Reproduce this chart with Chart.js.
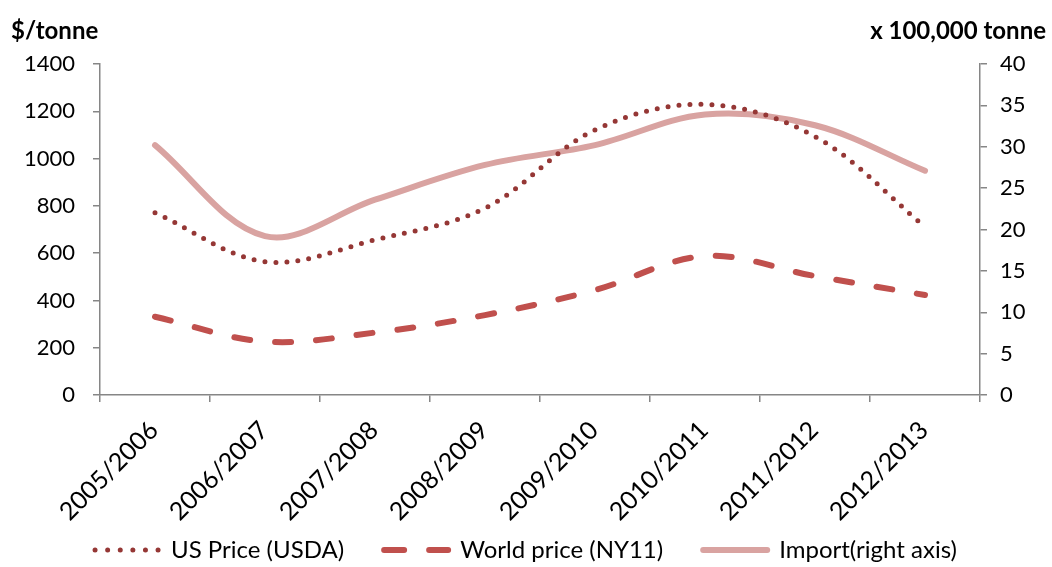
<!DOCTYPE html>
<html>
<head>
<meta charset="utf-8">
<script src="https://cdn.jsdelivr.net/npm/chart.js@4.4.0/dist/chart.umd.min.js"></script>
<style>
  html, body { margin: 0; padding: 0; background: #fff; }
  #wrap { width: 1052px; height: 567px; }
</style>
</head>
<body>
<div id="wrap"><canvas id="sugarChart"></canvas></div>
<script>
// marketing years
const seasons = ['2005/2006', '2006/2007', '2007/2008', '2008/2009', '2009/2010', '2010/2011', '2011/2012', '2012/2013'];

// prices in $/tonne (left axis)
const usPrice = [771, 564, 656, 790, 1121, 1229, 1093, 712];
const worldPrice = [331, 226, 264, 338, 444, 588, 503, 423];

// imports in 100,000 tonne (right axis)
const imports = [30.2, 19.2, 23.6, 27.8, 30.2, 33.9, 32.6, 27.1];

const priceTicks = [0, 200, 400, 600, 800, 1000, 1200, 1400];
const importTicks = [0, 5, 10, 15, 20, 25, 30, 35, 40];

const FONT = 'Lato, "Open Sans", sans-serif';
const AXIS = '#868686';

// bold unit labels above both y axes
const unitLabels = {
    id: 'unitLabels',
    afterDraw(chart) {
        const ctx = chart.ctx;
        ctx.save();
        ctx.font = 'bold 24px ' + FONT;
        ctx.fillStyle = '#000';
        ctx.textBaseline = 'middle';
        ctx.textAlign = 'left';
        ctx.fillText('$/tonne', 11, 31);
        ctx.textAlign = 'right';
        ctx.fillText('x 100,000 tonne', 1046, 31);
        ctx.restore();
    }
};

// season names under the x axis, turned 45 degrees
// (drawn here so they are not clipped to the axis box)
const seasonLabels = {
    id: 'seasonLabels',
    afterDraw(chart) {
        const xs = chart.scales.x;
        const ctx = chart.ctx;
        ctx.save();
        ctx.font = '25px ' + FONT;
        ctx.fillStyle = '#000';
        ctx.textAlign = 'right';
        ctx.textBaseline = 'middle';
        seasons.forEach((s, i) => {
            ctx.save();
            ctx.translate(xs.getPixelForValue(i) - 1, xs.top + 31);
            ctx.rotate(-Math.PI / 4);
            ctx.fillText(s, 0, 0);
            ctx.restore();
        });
        ctx.restore();
    }
};

// legend samples follow each dataset's own dash pattern
function legendItems(chart) {
    return chart.data.datasets.map((ds, i) => ({
        text: ds.label,
        fillStyle: ds.borderColor,
        strokeStyle: ds.borderColor,
        lineWidth: ds.borderWidth,
        lineDash: ds.legendDash || [],
        lineCap: ds.borderCapStyle,
        pointStyle: 'line',
        fontColor: '#000',
        hidden: !chart.isDatasetVisible(i),
        datasetIndex: i
    }));
}

const ctx = document.getElementById('sugarChart').getContext('2d');
const sugarChart = new Chart(ctx, {
    type: 'line',
    data: {
        labels: seasons,
        datasets: [{
            label: 'US Price (USDA)',
            data: usPrice,
            yAxisID: 'y',
            borderColor: '#953735',
            backgroundColor: '#953735',
            borderWidth: 5,
            borderDash: [0, 11],
            legendDash: [0, 12.6],
            borderCapStyle: 'round',
            tension: 0.35,
            pointRadius: 0,
            fill: false
        }, {
            label: 'World price (NY11)',
            data: worldPrice,
            yAxisID: 'y',
            borderColor: '#C0504D',
            backgroundColor: '#C0504D',
            borderWidth: 6,
            borderDash: [16, 25],
            legendDash: [20, 25],
            borderCapStyle: 'round',
            tension: 0.35,
            pointRadius: 0,
            fill: false
        }, {
            label: 'Import(right axis)',
            data: imports,
            yAxisID: 'y1',
            borderColor: '#D9A3A1',
            backgroundColor: '#D9A3A1',
            borderWidth: 6,
            borderCapStyle: 'round',
            tension: 0.35,
            pointRadius: 0,
            fill: false
        }]
    },
    options: {
        responsive: true,
        maintainAspectRatio: false,
        animation: false,
        layout: {
            padding: { top: 64, left: 0, right: 0, bottom: -5 }
        },
        plugins: {
            tooltip: { enabled: false },
            legend: {
                position: 'bottom',
                labels: {
                    usePointStyle: true,
                    pointStyle: 'line',
                    pointStyleWidth: 64,
                    boxHeight: 6,
                    padding: 40,
                    color: '#000',
                    font: { family: FONT, size: 24 },
                    generateLabels: legendItems
                }
            }
        },
        scales: {
            x: {
                offset: true,
                grid: {
                    offset: true,
                    drawOnChartArea: false,
                    drawTicks: true,
                    tickLength: 7,
                    color: AXIS,
                    lineWidth: 1.5
                },
                border: { display: true, color: AXIS, width: 1.5 },
                ticks: { display: false },
                afterFit(scale) { scale.height = 103; }
            },
            y: {
                position: 'left',
                min: priceTicks[0],
                max: priceTicks[priceTicks.length - 1],
                grid: {
                    drawOnChartArea: false,
                    tickLength: 7,
                    color: AXIS,
                    lineWidth: 1.5
                },
                border: { display: true, color: AXIS, width: 1.5 },
                ticks: {
                    stepSize: 200,
                    padding: 18,
                    color: '#000',
                    font: { family: FONT, size: 22 },
                    callback: v => String(v)
                },
                afterFit(scale) { scale.width = 100; }
            },
            y1: {
                position: 'right',
                min: importTicks[0],
                max: importTicks[importTicks.length - 1],
                grid: {
                    drawOnChartArea: false,
                    tickLength: 7,
                    color: AXIS,
                    lineWidth: 1.5
                },
                border: { display: true, color: AXIS, width: 1.5 },
                ticks: {
                    stepSize: 5,
                    padding: 13,
                    color: '#000',
                    font: { family: FONT, size: 22 },
                    callback: v => String(v)
                },
                afterFit(scale) { scale.width = 72; }
            }
        }
    },
    plugins: [unitLabels, seasonLabels]
});
</script>
</body>
</html>
